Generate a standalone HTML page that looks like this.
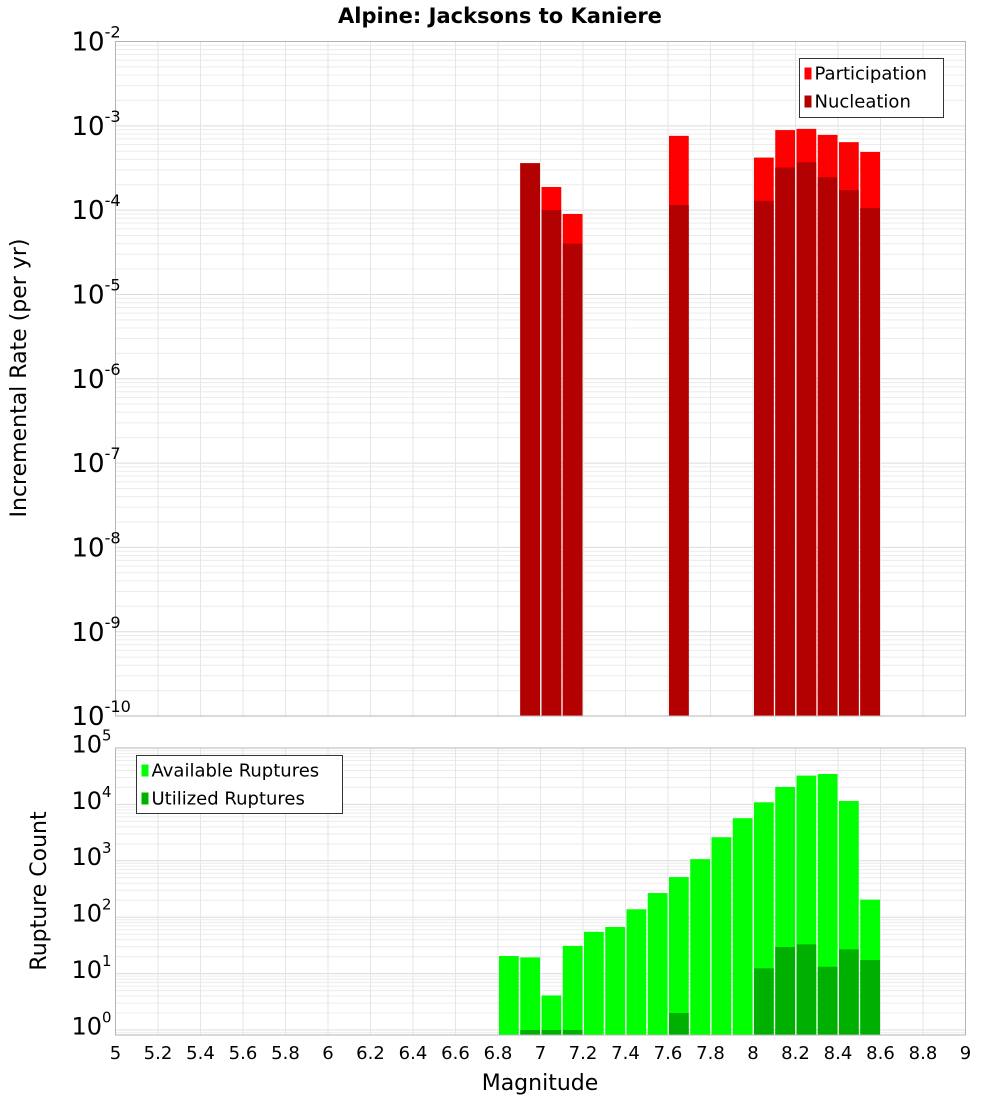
<!DOCTYPE html>
<html><head><meta charset="utf-8"><style>
body{margin:0;background:#fff}
svg{display:block;font-family:"DejaVu Sans","Liberation Sans",sans-serif}
</style></head><body>
<svg id="c" width="1000" height="1100" xmlns="http://www.w3.org/2000/svg"></svg>
<script>
const magBins=[6.85,6.95,7.05,7.15,7.25,7.35,7.45,7.55,7.65,7.75,7.85,7.95,8.05,8.15,8.25,8.35,8.45,8.55];
const partMags=[6.95,7.05,7.15,7.65,8.05,8.15,8.25,8.35,8.45,8.55];
const participation=[3.6e-4,1.88e-4,9.0e-5,7.6e-4,4.2e-4,8.9e-4,9.2e-4,7.8e-4,6.4e-4,4.9e-4];
const nucleation=[3.6e-4,1.0e-4,4.0e-5,1.15e-4,1.29e-4,3.2e-4,3.7e-4,2.45e-4,1.73e-4,1.06e-4];
const available=[20.5,19.4,4.1,31,55,67,138,268,515,1070,2620,5700,10900,20400,32400,34600,11500,205];
const utilized=[0,1,1,1,0,0,0,0,2,0,0,0,12.4,29.6,33,13.2,26.9,17.4];
const xTicks=[5,5.2,5.4,5.6,5.8,6,6.2,6.4,6.6,6.8,7,7.2,7.4,7.6,7.8,8,8.2,8.4,8.6,8.8,9];
const topExp=[-2,-3,-4,-5,-6,-7,-8,-9,-10];
const botExp=[5,4,3,2,1,0];

const svg=document.getElementById('c');
const NS='http://www.w3.org/2000/svg';
function mk(t,a,p){const e=document.createElementNS(NS,t);for(const k in a)e.setAttribute(k,a[k]);(p||svg).appendChild(e);return e;}
const X0=115.5,X1=965.5;
const x=m=>X0+(m-5)*(X1-X0)/4;
const BW=(X1-X0)/40;
const T0=41.5,TB=716,tdec=(TB-T0)/8;
const yTop=v=>T0+(-2-Math.log10(v))*tdec;
const B0=748,bdec=56.4;
const yBot=v=>B0+(5-Math.log10(v))*bdec;
const BB=1035;

const t=mk('text',{x:500,y:23,'text-anchor':'middle','font-size':21,'font-weight':'bold'});


t.textContent='Alpine: Jacksons to Kaniere';

function grid(top,bot,nDec,ydec){
  const g=mk('g',{});
  
  
  for(let d=0;d<nDec;d++){for(let k=1;k<10;k++){const yy=top+(d+1-Math.log10(k))*ydec;if(yy>=top&&yy<=bot)mk('line',{x1:X0,x2:X1,y1:yy,y2:yy,stroke:k==1?'#dcdcdc':'#ececec','stroke-width':1},g);}}
  xTicks.forEach(m=>mk('line',{x1:x(m),x2:x(m),y1:top,y2:bot,stroke:'#e6e6e6','stroke-width':1},g));
}
grid(T0,TB,8,tdec);
grid(B0,BB,6,bdec);

function bar(m,v,yf,base,fill,name){
  const y=yf(v);
  const r=mk('rect',{x:x(m-0.05)+1,y:y,width:BW-1.5,height:Math.max(0,base-y),fill:fill});
  
  
}
partMags.forEach((m,i)=>{bar(m,participation[i],yTop,TB,'#ff0000','participation-bar');});
partMags.forEach((m,i)=>{bar(m,nucleation[i],yTop,TB,'#b30000','nucleation-bar');});
magBins.forEach((m,i)=>{if(available[i]>0)bar(m,available[i],yBot,BB,'#00ff00','available-bar');});
magBins.forEach((m,i)=>{if(utilized[i]>0)bar(m,utilized[i],yBot,BB,'#00b000','utilized-bar');});

const f1=mk('rect',{x:X0,y:T0,width:X1-X0,height:TB-T0,fill:'none',stroke:'#b4b4b4'});


const f2=mk('rect',{x:X0,y:B0,width:X1-X0,height:BB-B0,fill:'none',stroke:'#b4b4b4'});



function ylab(e,yy,fs,name){
  const tx=mk('text',{x:X0-44,y:yy+fs*0.35,'font-size':fs});
  
  
  const a=mk('tspan',{},tx);a.textContent='10';
  const b=mk('tspan',{dy:-fs*0.5,'font-size':fs*0.62},tx);b.textContent=String(e);
}
topExp.forEach(e=>ylab(e,yTop(Math.pow(10,e)),26,'y-tick-label'));
botExp.forEach(e=>ylab(e,yBot(Math.pow(10,e))-4,24,'y-tick-label-bottom'));

xTicks.forEach(m=>{const tx=mk('text',{x:x(m),y:1059,'text-anchor':'middle','font-size':18});
  
  
  tx.textContent=String(m);});

const xt=mk('text',{x:540,y:1090,'text-anchor':'middle','font-size':22});


xt.textContent='Magnitude';
const yt=mk('text',{x:0,y:0,'text-anchor':'middle','font-size':22,transform:'translate(26,378) rotate(-90)'});


yt.textContent='Incremental Rate (per yr)';
const yt2=mk('text',{x:0,y:0,'text-anchor':'middle','font-size':22,transform:'translate(46,891) rotate(-90)'});


yt2.textContent='Rupture Count';

function legend(bx,by,w,h,items,name){
  const g=mk('g',{});
  
  
  mk('rect',{x:bx,y:by,width:w,height:h,fill:'#fff',stroke:'#333'},g);
  items.forEach((it,i)=>{
    mk('rect',{x:bx+5,y:by+9+i*28,width:7,height:12,fill:it[1]},g);
    const tx=mk('text',{x:bx+15,y:by+21+i*28,'font-size':18},g);tx.textContent=it[0];
  });
}
legend(799.5,58.5,144,59,[['Participation','#ff0000'],['Nucleation','#b30000']],'legend-top');
legend(136.5,755.5,206,58,[['Available Ruptures','#00ff00'],['Utilized Ruptures','#00b000']],'legend-bottom');
</script>
</body></html>
